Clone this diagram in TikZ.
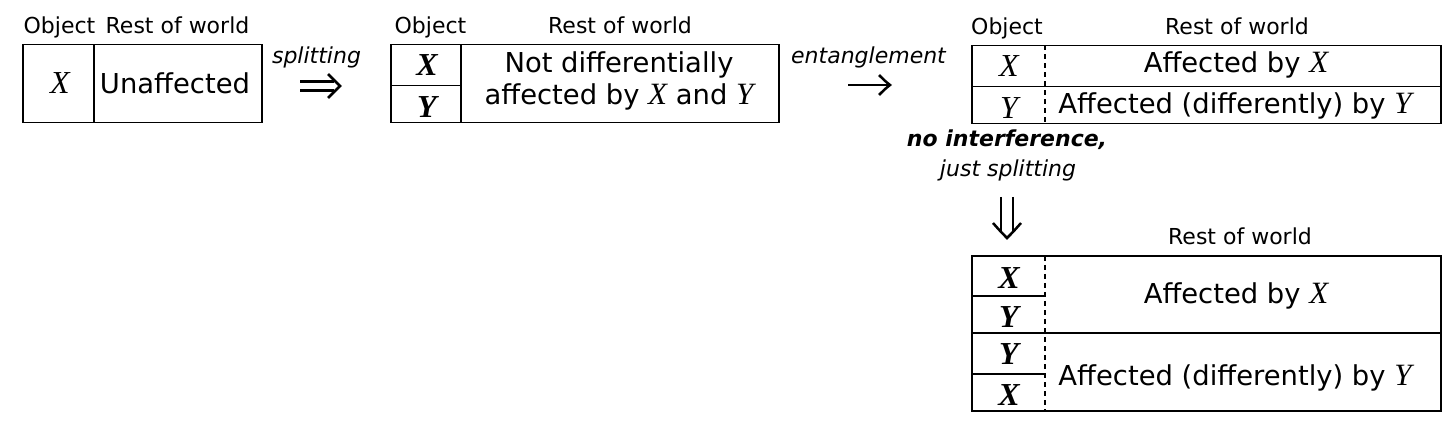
\documentclass[tikz,border=0pt]{standalone}
\usepackage{fontspec}
\usetikzlibrary{calc}
\setmainfont{DejaVu Sans}
\newfontfamily\tmsfont{Liberation Serif}
\newcommand{\mv}[1]{{\fontsize{15.5}{16}\tmsfont\itshape #1}}
\begin{document}
\begin{tikzpicture}[x=0.5pt,y=-0.5pt,line width=0.8pt]
\tikzset{
  lbl/.style={font=\fontsize{11}{12}\selectfont, inner sep=0pt, anchor=base},
  itlbl/.style={font=\fontsize{11}{12}\selectfont\itshape, inner sep=0pt, anchor=base},
  bitlbl/.style={font=\fontsize{11}{12}\selectfont\bfseries\itshape, inner sep=0pt, anchor=base},
  txt/.style={font=\fontsize{13.7}{16}\selectfont, inner sep=0pt, anchor=base},
  var/.style={font=\fontsize{16}{16}\tmsfont\itshape, inner sep=0pt, anchor=base},
  bvar/.style={font=\fontsize{16}{16}\tmsfont\bfseries\itshape, inner sep=0pt, anchor=base},
  arrowline/.style={line width=1.25pt, line join=miter},
  divd/.style={line width=0.7pt, dash pattern=on 2.5pt off 2pt}
}
\useasboundingbox (0,0) rectangle (1456,427);

% ---------- Box 1 ----------
\node[lbl] (o1) at (59.5,34) {Object};
\node[lbl] (r1) at (177.5,34) {Rest of world};
\draw (23,44.5) rectangle (262,122.5);
\draw (94,44.5) -- (94,122.5);
\node[var] (x1) at (60,94) {X};
\node[txt] (u1) at (175,94) {Unaffected};

% arrow 1 (double right arrow)
\node[itlbl] (spl) at (316.5,64) {splitting};
\coordinate (a1s) at (300,86);
\coordinate (a1t) at (340,86);
\draw[arrowline] ($(a1s)+(0,-4.5)$) -- ($(a1t)+(-6,-4.5)$);
\draw[arrowline] ($(a1s)+(0,4.5)$) -- ($(a1t)+(-6,4.5)$);
\draw[arrowline] ($(a1t)+(-12,-12)$) .. controls ($(a1t)+(-5,-5)$) .. (a1t)
  .. controls ($(a1t)+(-5,5)$) .. ($(a1t)+(-12,12)$);

% ---------- Box 2 ----------
\node[lbl] (o2) at (430.5,34) {Object};
\node[lbl] (r2) at (620,34) {Rest of world};
\draw (391,44.5) rectangle (779,122.5);
\draw (461,44.5) -- (461,122.5);
\draw (391,85.5) -- (461,85.5);
\node[bvar] (x2) at (427,75.5) {X};
\node[bvar] (y2) at (427,117.5) {Y};
\node[txt] (t2a) at (619,72.7) {Not differentially};
\node[txt] (t2b) at (619,105) {affected by \mv{X} and \mv{Y}};

% arrow 2 (single right arrow)
\node[itlbl] (ent) at (868.5,63.3) {entanglement};
\coordinate (a2s) at (848,85);
\coordinate (a2t) at (890,85);
\draw[arrowline] (a2s) -- ($(a2t)+(-1,0)$);
\draw[arrowline] ($(a2t)+(-11,-10)$) .. controls ($(a2t)+(-5,-4)$) .. (a2t)
  .. controls ($(a2t)+(-5,4)$) .. ($(a2t)+(-11,10)$);

% ---------- Box 3 ----------
\node[lbl] (o3) at (1007,35) {Object};
\node[lbl] (r3) at (1237,35) {Rest of world};
\draw (972,45.5) rectangle (1441,123.5);
\draw (972,86.5) -- (1441,86.5);
\draw[divd] (1045,45.5) -- (1045,123.5);
\node[var] (x3) at (1009,77) {X};
\node[var] (y3) at (1009,118.5) {Y};
\node[txt] (t3a) at (1236,72.7) {Affected by \mv{X}};
\node[txt] (t3b) at (1235,113.3) {Affected (differently) by \mv{Y}};

% arrow 3 (double down arrow)
\node[bitlbl] (noi) at (1007,146.7) {no interference,};
\node[itlbl] (jsp) at (1008,176.7) {just splitting};
\coordinate (a3s) at (1007,197);
\coordinate (a3t) at (1007,238);
\draw[arrowline] ($(a3s)+(-6,0)$) -- ($(a3t)+(-6,-7)$);
\draw[arrowline] ($(a3s)+(6,0)$) -- ($(a3t)+(6,-7)$);
\draw[arrowline] ($(a3t)+(-14,-15)$) .. controls ($(a3t)+(-6,-6)$) .. (a3t)
  .. controls ($(a3t)+(6,-6)$) .. ($(a3t)+(14,-15)$);

% ---------- Box 4 ----------
\node[lbl] (r4) at (1240,245) {Rest of world};
\draw (972,256) rectangle (1441,411);
\draw (972,333) -- (1441,333);
\draw (972,296) -- (1045,296);
\draw (972,374) -- (1045,374);
\draw[divd] (1045,256) -- (1045,411);
\node[bvar] (x4a) at (1009,288) {X};
\node[bvar] (y4a) at (1009,327.5) {Y};
\node[bvar] (y4b) at (1009,364) {Y};
\node[bvar] (x4b) at (1009,405.5) {X};
\node[txt] (t4a) at (1236,303.3) {Affected by \mv{X}};
\node[txt] (t4b) at (1235,385) {Affected (differently) by \mv{Y}};
\end{tikzpicture}
\end{document}
